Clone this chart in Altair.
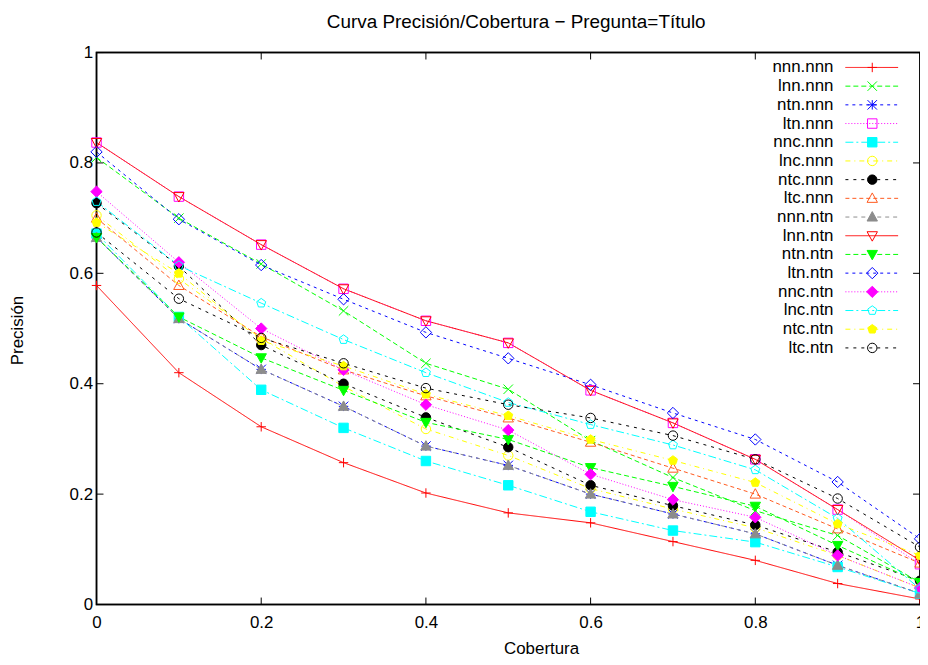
import altair as alt
import pandas as pd

# ---------------- data ----------------
recall = [0.0, 0.1, 0.2, 0.3, 0.4, 0.5, 0.6, 0.7, 0.8, 0.9, 1.0]

nnn_nnn = [0.578, 0.420, 0.322, 0.257, 0.202, 0.166, 0.148, 0.114, 0.080, 0.038, 0.010]
lnn_nnn = [0.810, 0.700, 0.617, 0.532, 0.437, 0.390, 0.297, 0.230, 0.170, 0.125, 0.040]
ntn_nnn = [0.665, 0.518, 0.426, 0.359, 0.287, 0.252, 0.200, 0.164, 0.128, 0.071, 0.020]
ltn_nnn = [0.837, 0.739, 0.652, 0.572, 0.514, 0.474, 0.388, 0.329, 0.263, 0.172, 0.073]
nnc_nnn = [0.672, 0.521, 0.389, 0.320, 0.260, 0.216, 0.168, 0.134, 0.113, 0.068, 0.020]
lnc_nnn = [0.705, 0.590, 0.482, 0.395, 0.318, 0.270, 0.210, 0.173, 0.139, 0.089, 0.030]
ntc_nnn = [0.727, 0.613, 0.470, 0.400, 0.339, 0.285, 0.216, 0.179, 0.144, 0.095, 0.043]
ltc_nnn = [0.700, 0.578, 0.485, 0.425, 0.378, 0.338, 0.294, 0.247, 0.200, 0.137, 0.075]
nnn_ntn = [0.665, 0.518, 0.426, 0.359, 0.287, 0.252, 0.200, 0.164, 0.128, 0.071, 0.020]
lnn_ntn = [0.837, 0.739, 0.652, 0.572, 0.514, 0.474, 0.388, 0.329, 0.263, 0.172, 0.080]
ntn_ntn = [0.665, 0.521, 0.447, 0.388, 0.330, 0.299, 0.248, 0.214, 0.178, 0.107, 0.040]
ltn_ntn = [0.820, 0.698, 0.615, 0.553, 0.493, 0.446, 0.398, 0.347, 0.299, 0.222, 0.119]
nnc_ntn = [0.748, 0.620, 0.500, 0.425, 0.362, 0.316, 0.236, 0.190, 0.158, 0.089, 0.030]
lnc_ntn = [0.730, 0.614, 0.546, 0.480, 0.420, 0.366, 0.326, 0.289, 0.244, 0.156, 0.028]
ntc_ntn = [0.692, 0.600, 0.478, 0.432, 0.381, 0.342, 0.299, 0.261, 0.221, 0.146, 0.089]
ltc_ntn = [0.674, 0.554, 0.483, 0.437, 0.392, 0.362, 0.338, 0.306, 0.263, 0.192, 0.104]

names = ["nnn.nnn", "lnn.nnn", "ntn.nnn", "ltn.nnn", "nnc.nnn", "lnc.nnn", "ntc.nnn",
         "ltc.nnn", "nnn.ntn", "lnn.ntn", "ntn.ntn", "ltn.ntn", "nnc.ntn", "lnc.ntn",
         "ntc.ntn", "ltc.ntn"]
series_values = [nnn_nnn, lnn_nnn, ntn_nnn, ltn_nnn, nnc_nnn, lnc_nnn, ntc_nnn, ltc_nnn,
                 nnn_ntn, lnn_ntn, ntn_ntn, ltn_ntn, nnc_ntn, lnc_ntn, ntc_ntn, ltc_ntn]

tick_values = [0, 0.2, 0.4, 0.6, 0.8, 1.0]
title_text = ["Curva Precisión/Cobertura − Pregunta=Título"]

# ---------------- styles ----------------
RED, GREEN, BLUE, MAG, CYAN, YEL, BLK, ORG, GRY = (
    "#ff0000", "#00ff00", "#0000ff", "#ff00ff", "#00ffff", "#ffff00", "#000000", "#ff5a1e", "#8c8c8c")
colors = [RED, GREEN, BLUE, MAG, CYAN, YEL, BLK, ORG, GRY,
          RED, GREEN, BLUE, MAG, CYAN, YEL, BLK]
D1, D2, D3, D4, D5, D6, D7, D8, D9 = ([1, 0], [5, 3], [3, 4], [1, 2], [8, 3, 2, 3],
                                      [5, 4, 1, 4], [3, 5], [4, 3], [4, 4])
dashes = [D1, D2, D3, D4, D5, D6, D7, D8, D9, D1, D2, D3, D4, D5, D6, D7]

PLUS = "M-1,0L1,0M0,-1L0,1"
XCROSS = "M-1,-1L1,1M-1,1L1,-1"
STAR = "M-1,0L1,0M0,-1L0,1M-1,-1L1,1M-1,1L1,-1"
SQUARE = "M-1,-1L1,-1L1,1L-1,1Z"
CIRCLE = "M1,0A1,1,0,1,1,-1,0A1,1,0,1,1,1,0Z"
TUP = "M0,-1.15L1.1,0.85L-1.1,0.85Z"
TDN = "M0,1.15L1.1,-0.85L-1.1,-0.85Z"
DIAM = "M0,-1.2L1.2,0L0,1.2L-1.2,0Z"
PENT = "M0,-1L0.951,-0.309L0.588,0.809L-0.588,0.809L-0.951,-0.309Z"
shapes = [PLUS, XCROSS, STAR, SQUARE, SQUARE, CIRCLE, CIRCLE, TUP, TUP,
          TDN, TDN, DIAM, DIAM, PENT, PENT, CIRCLE]
T = "transparent"
fills = [T, T, T, T, CYAN, T, BLK, T, GRY, T, GREEN, T, MAG, T, YEL, T]

FONT = "Liberation Sans"
FS_TICK = 17
FS_LEG = 17
FS_AXTITLE = 17
FS_TITLE = 19

# ---------------- tables ----------------
rows = []
for nm, vals in zip(names, series_values):
    for r, p in zip(recall, vals):
        rows.append({"series": nm, "rec": r, "prec": p})
df = pd.DataFrame(rows)
leg = pd.DataFrame({"series": names, "idx": list(range(len(names)))})
xt = pd.DataFrame({"rec": tick_values})
yt = pd.DataFrame({"prec": tick_values})
ttl = pd.DataFrame({"t": title_text})

W, H = 828, 555

x_axis = alt.Axis(values=tick_values, format="~g", ticks=False, tickSize=0, domain=False,
                  grid=False, labelFont=FONT, labelFontSize=FS_TICK, labelColor="black",
                  labelPadding=10, labelFlush=False, title="Cobertura", titleFont=FONT,
                  titleFontSize=FS_AXTITLE, titleFontWeight="normal", titleColor="black",
                  titleX=447, titleY=44, titleAlign="center", titleBaseline="middle")
y_axis = alt.Axis(values=tick_values, format="~g", ticks=False, tickSize=0, domain=False,
                  grid=False, labelFont=FONT, labelFontSize=FS_TICK, labelColor="black",
                  labelPadding=4, labelFlush=False, title="Precisión", titleFont=FONT,
                  titleFontSize=FS_AXTITLE, titleFontWeight="normal", titleColor="black",
                  titleX=-79, titleY=279, titleAngle=270, titleAlign="center",
                  titleBaseline="middle")

xs = alt.Scale(domain=[0, 1], nice=False, zero=False)
ys = alt.Scale(domain=[0, 1], nice=False, zero=False)
X = alt.X("rec:Q", scale=xs, axis=x_axis)
Y_main = alt.Y("prec:Q", scale=ys, axis=y_axis)
Y = alt.Y("prec:Q", scale=ys, axis=None)

color_enc = alt.Color("series:N", scale=alt.Scale(domain=names, range=colors), legend=None)
dash_enc = alt.StrokeDash("series:N", scale=alt.Scale(domain=names, range=dashes), legend=None)
shape_enc = alt.Shape("series:N", scale=alt.Scale(domain=names, range=shapes), legend=None)
fill_enc = alt.Fill("series:N", scale=alt.Scale(domain=names, range=fills), legend=None)

border = alt.Chart(ttl).mark_rect(filled=False, stroke="black", strokeWidth=1.5).encode(
    x=alt.value(0), x2=alt.value(W), y=alt.value(0), y2=alt.value(H))
title = alt.Chart(ttl).mark_text(font=FONT, fontSize=FS_TITLE, color="black",
                                 align="center", baseline="middle").encode(
    x=alt.value(W / 2 + 8), y=alt.value(-31), text="t:N")

tick_b = alt.Chart(xt).mark_rule(color="black", strokeWidth=1).encode(
    x=X, y=alt.value(H), y2=alt.value(H - 7))
tick_t = alt.Chart(xt).mark_rule(color="black", strokeWidth=1).encode(
    x=X, y=alt.value(0), y2=alt.value(7))
tick_l = alt.Chart(yt).mark_rule(color="black", strokeWidth=1).encode(
    y=Y, x=alt.value(0), x2=alt.value(7))
tick_r = alt.Chart(yt).mark_rule(color="black", strokeWidth=1).encode(
    y=Y, x=alt.value(W), x2=alt.value(W - 7))

lines = alt.Chart(df).mark_line(strokeWidth=1, clip=False).encode(
    x=X, y=Y_main, color=color_enc, strokeDash=dash_enc, order=alt.Order("rec:Q"))
points = alt.Chart(df).mark_point(filled=False, size=90, strokeWidth=1, opacity=1).encode(
    x=X, y=Y, color=color_enc, shape=shape_enc, fill=fill_enc)

LY = alt.Y("idx:Q", scale=alt.Scale(domain=[0, 15], range=[15, 297]), axis=None)
leg_text = alt.Chart(leg).mark_text(align="right", baseline="middle", font=FONT,
                                    fontSize=FS_LEG, color="black").encode(
    x=alt.value(741), y=LY, text="series:N")
leg_rule = alt.Chart(leg).mark_rule(strokeWidth=1).encode(
    x=alt.value(753), x2=alt.value(806), y=LY, color=color_enc, strokeDash=dash_enc)
leg_pt = alt.Chart(leg).mark_point(filled=False, size=90, strokeWidth=1, opacity=1).encode(
    x=alt.value(780), y=LY, color=color_enc, shape=shape_enc, fill=fill_enc)

chart = alt.layer(
    lines, border, tick_b, tick_t, tick_l, tick_r, points, leg_rule, leg_pt, leg_text, title
).resolve_scale(y="independent").properties(
    width=W, height=H,
    autosize=alt.AutoSizeParams(type="none"),
    padding={"left": 89, "top": 43, "right": 0, "bottom": 51},
    background="white",
).configure_view(stroke="black", strokeWidth=1.5)

chart.save("out.html", embed_options={"renderer": "svg", "actions": False})
